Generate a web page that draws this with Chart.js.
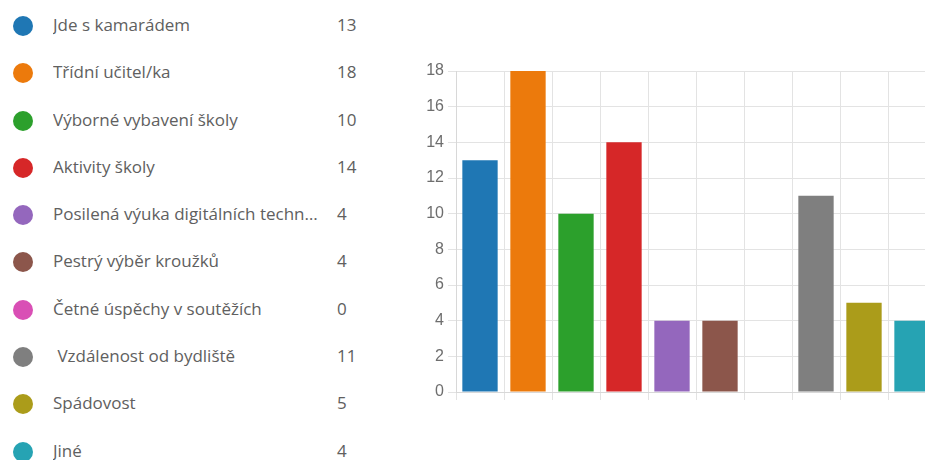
<!DOCTYPE html>
<html>
<head>
<meta charset="utf-8">
<script src="https://cdn.jsdelivr.net/npm/chart.js@4"></script>
<style>
  html, body { margin: 0; padding: 0; background: #fff; overflow: hidden; }
  body { width: 925px; height: 460px; position: relative; }
  #legend { position: absolute; left: 0; top: 2px; font-family: "Open Sans", sans-serif; font-size: 17px; color: #606060; }
  .row { position: relative; height: 47.3px; }
  .dot { position: absolute; left: 13px; top: 14px; width: 20px; height: 20px; border-radius: 50%; }
  .name { position: absolute; left: 53px; top: 11px; width: 274px; white-space: pre; overflow: hidden; text-overflow: ellipsis; }
  .val { position: absolute; left: 337px; top: 11px; }
  #wrap { position: absolute; left: 400px; top: 0; width: 540px; height: 460px; }
</style>
</head>
<body>
<div id="legend"></div>
<div id="wrap"><canvas id="myChart"></canvas></div>
<script>
const categories = ['Jde s kamarádem', 'Třídní učitel/ka', 'Výborné vybavení školy', 'Aktivity školy',
  'Posilená výuka digitálních technologií', 'Pestrý výběr kroužků', 'Četné úspěchy v soutěžích',
  ' Vzdálenost od bydliště', 'Spádovost', 'Jiné']
const counts = [13, 18, 10, 14, 4, 4, 0, 11, 5, 4]
const colors = ['#1f77b4', '#ec7a0c', '#2ca02c', '#d62728', '#9467bd', '#8c564b', '#d94fb5', '#7f7f7f', '#ab9c1a', '#26a3b3']
const yTicks = [0, 2, 4, 6, 8, 10, 12, 14, 16, 18]

// legend list on the left
const legend = document.getElementById('legend')
categories.forEach((name, i) => {
  const row = document.createElement('div')
  row.className = 'row'
  row.innerHTML = `<span class="dot" style="background:${colors[i]}"></span>` +
    `<span class="name"></span><span class="val">${counts[i]}</span>`
  row.querySelector('.name').textContent = name
  legend.appendChild(row)
})

const ctx = document.getElementById('myChart')

const chart = new Chart(ctx, {
  type: 'bar',
  data: {
    labels: categories,
    datasets: [{
      label: 'Počet',
      data: counts,
      backgroundColor: colors,
      borderWidth: 0,
      categoryPercentage: 0.8,
      barPercentage: 0.92
    }]
  },
  options: {
    responsive: true,
    maintainAspectRatio: false,
    animation: false,
    layout: { padding: { top: 71, right: 4, bottom: 48, left: 0 } },
    plugins: { legend: { display: false }, tooltip: { enabled: false } },
    scales: {
      x: {
        grid: { color: '#e3e3e3', tickLength: 8, offset: true },
        border: { color: '#d8d8d8' },
        ticks: { display: false },
        afterFit: (scale) => { scale.height = 20 }
      },
      y: {
        min: 0,
        max: 18,
        afterBuildTicks: (scale) => { scale.ticks = yTicks.map(v => ({ value: v })) },
        grid: { color: '#e3e3e3', tickLength: 8 },
        border: { color: '#d8d8d8' },
        ticks: {
          color: '#6e6e6e',
          padding: 4,
          font: { family: 'Liberation Sans, Arial, sans-serif', size: 16 }
        },
        afterFit: (scale) => { scale.width = 56 }
      }
    }
  }
})
</script>
</body>
</html>
